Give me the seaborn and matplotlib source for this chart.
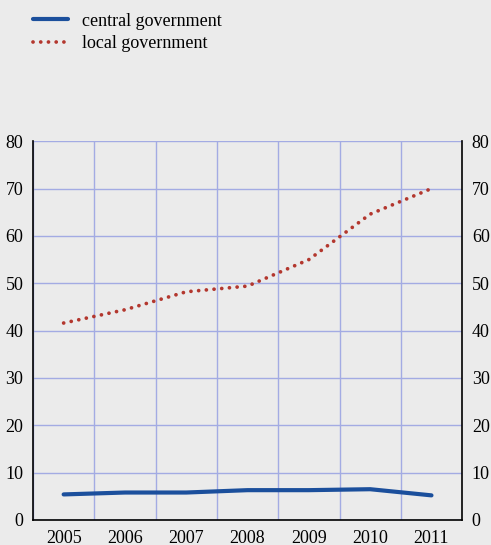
import matplotlib
matplotlib.use('Agg')
import matplotlib.pyplot as plt
import pandas as pd
import seaborn as sns

years = [2005, 2006, 2007, 2008, 2009, 2010, 2011]
central = [5.4, 5.8, 5.8, 6.3, 6.3, 6.5, 5.2]
local = [41.6, 44.4, 48.2, 49.4, 55.0, 64.6, 70.0]
yticks = [0, 10, 20, 30, 40, 50, 60, 70, 80]

BG = '#ebebeb'
GRID = '#a3abe3'
BLUE = '#1b4f9c'
RED = '#b3372e'

sns.set_style('white')
plt.rcParams['font.family'] = ['Liberation Serif', 'DejaVu Serif']
plt.rcParams['text.color'] = 'black'
plt.rcParams['xtick.color'] = 'black'
plt.rcParams['ytick.color'] = 'black'

df = pd.DataFrame({'year': years, 'central government': central, 'local government': local})

fig = plt.figure(figsize=(4.91, 5.45), dpi=100, facecolor=BG)
ax = fig.add_axes([0.0672, 0.0459, 0.874, 0.695])
ax.set_facecolor(BG)

sns.lineplot(data=df, x='year', y='central government', ax=ax, color=BLUE,
             linewidth=3.0, label='central government', legend=False)
sns.lineplot(data=df, x='year', y='local government', ax=ax, color=RED,
             linewidth=2.7, label='local government', legend=False)
ax.lines[1].set_linestyle((0, (0.01, 2.05)))
ax.lines[1].set_dash_capstyle('round')

ax.set_xlim(years[0] - 0.5, years[-1] + 0.5)
ax.set_ylim(0, 80)
ax.set_xticks(years)
ax.set_xticklabels([str(y) for y in years], fontsize=13)
ax.set_xticks([y + 0.5 for y in years[:-1]] + [years[0] - 0.5], minor=True)
ax.set_yticks(yticks)
ax.tick_params(axis='x', which='major', length=0, pad=7)
ax.tick_params(axis='x', which='minor', length=5, width=1.2, direction='out', color='black')
ax.tick_params(axis='y', length=0, labelsize=13, labelright=True, labelleft=True, pad=7)
ax.set_xlabel(None)
ax.set_ylabel(None)

ax.grid(axis='y', which='major', color=GRID, linewidth=1)
ax.grid(axis='x', which='minor', color=GRID, linewidth=1)
ax.set_axisbelow(True)
for side in ['left', 'right', 'bottom']:
    ax.spines[side].set_color('black')
    ax.spines[side].set_linewidth(1.2)
ax.spines['top'].set_visible(False)

handles, labels = ax.get_legend_handles_labels()
fig.legend(handles, labels, loc='upper left', bbox_to_anchor=(0.041, 1.0),
           frameon=False, fontsize=13, handlelength=1.95, handletextpad=0.8,
           labelspacing=0.32, borderaxespad=0.3)

fig.savefig('out.png', dpi=100, facecolor=BG)
